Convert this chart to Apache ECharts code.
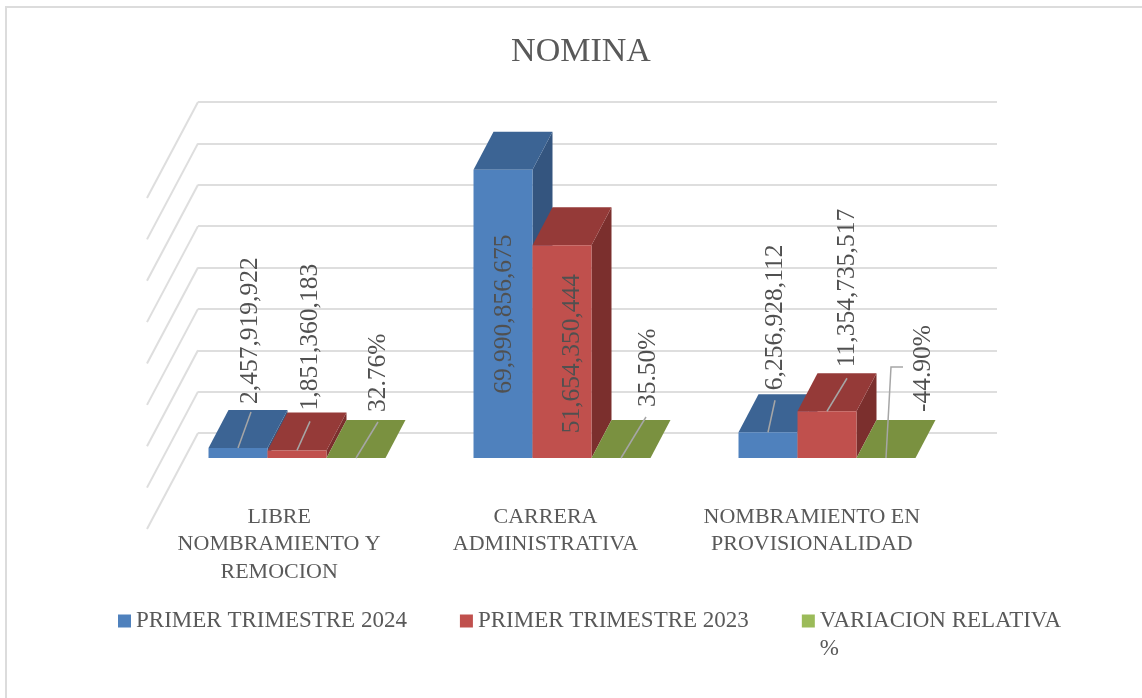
<!DOCTYPE html>
<html lang="en">
<head>
    <meta charset="UTF-8" />
    <title>NOMINA</title>
    <script src="https://cdn.jsdelivr.net/npm/echarts@6/dist/echarts.min.js"></script>
    <style>
        html, body { margin: 0; padding: 0; background: #fff; overflow: hidden; }
        #chart { width: 1142px; height: 698px; }
        #frame { position: absolute; left: 5px; top: 6px; right: 0; bottom: 0; border-left: 2px solid #dcdcdc; border-top: 2px solid #dcdcdc; pointer-events: none; }
    </style>
</head>
<body>
    <div id="chart"></div>
    <div id="frame"></div>
    <script type="text/javascript">
        const categories = ['LIBRE\nNOMBRAMIENTO Y\nREMOCION', 'CARRERA\nADMINISTRATIVA', 'NOMBRAMIENTO EN\nPROVISIONALIDAD'];
        const seriesNames = ['PRIMER TRIMESTRE 2024', 'PRIMER TRIMESTRE 2023', 'VARIACION RELATIVA\n%'];
        const trimestre2024 = [2457919922, 69990856675, 6256928112];
        const trimestre2023 = [1851360183, 51654350444, 11354735517];
        const variacion = [0.3276, 0.355, -0.449];
        const valueTicks = [0, 1e10, 2e10, 3e10, 4e10, 5e10, 6e10, 7e10, 8e10];

        // box styling, [front, top, side]
        const faceColors = [
            ['#4f81bd', '#3c6494', '#34557f'],
            ['#c0504d', '#953a38', '#7b2f2d'],
            ['#9bbb59', '#7a9140', '#66792f']
        ];
        const depth = [20, -38];      // how far the box goes backwards
        const wallDepth = [-51, 96];  // side wall runs towards the viewer
        const floorDrop = 25;         // bars stand in front of the back wall
        const frontScale = 0.995;     // front plane is a bit smaller than the back wall
        const clusterShift = -33.5;
        const fontName = '"Liberation Serif", serif';
        const textColor = '#595959';
        const gridColor = '#dedede';

        // label placement relative to the front-top middle of each bar: [label dx, label dy, leader points]
        const labelPlacement = [
            [[12.5, -44, [[13, -36]]], [13.5, -40, [[13, -29]]], [22, -46, [[22, -36]]]],
            [[1.5, 224, []], [10.5, 188, []], [27, -51, [[25, -41]]]],
            [[7, -42, [[7, -32]]], [20, -44, [[20, -33]]], [37, -46, [[5, -91], [17, -91]]]]
        ];

        const fmtInt = (v) => v.toLocaleString('en-US');
        const fmtPct = (v) => (v * 100).toFixed(2) + '%';

        function barFront(api, params, s, cat, value) {
            const left = params.coordSys.x;
            const base = api.coord([cat, 0]);
            const top = api.coord([cat, value]);
            const w = api.size([1, 0])[0] * 0.2215;
            const cx = left + (base[0] - left) * frontScale + clusterShift;
            const x0 = cx + (s - 1.5) * w;
            const h = Math.max(base[1] - top[1], 0) * frontScale;
            return { x0: x0, x1: x0 + w, yBase: base[1] + floorDrop, yTop: base[1] + floorDrop - h };
        }

        function poly(points, color, z2) {
            return { type: 'polygon', z2: z2, shape: { points: points }, style: { fill: color }, silent: true };
        }

        function renderBar(s) {
            return function (params, api) {
                const cat = api.value(0);
                const b = barFront(api, params, s, cat, api.value(1));
                const dx = depth[0], dy = depth[1];
                const c = faceColors[s];
                return {
                    type: 'group',
                    children: [
                        poly([[b.x1, b.yTop], [b.x1 + dx, b.yTop + dy], [b.x1 + dx, b.yBase + dy], [b.x1, b.yBase]], c[2], 1),
                        poly([[b.x0, b.yTop], [b.x1, b.yTop], [b.x1 + dx, b.yTop + dy], [b.x0 + dx, b.yTop + dy]], c[1], 2),
                        poly([[b.x0, b.yTop], [b.x1, b.yTop], [b.x1, b.yBase], [b.x0, b.yBase]], c[0], 3)
                    ]
                };
            };
        }

        function renderWall(params, api) {
            const y = api.coord([0, api.value(0)])[1];
            const x = params.coordSys.x;
            return {
                type: 'line',
                shape: { x1: x, y1: y, x2: x + wallDepth[0], y2: y + wallDepth[1] },
                style: { stroke: gridColor, lineWidth: 2 },
                silent: true
            };
        }

        function renderLabel(params, api) {
            const cat = api.value(0), s = api.value(1);
            const b = barFront(api, params, s, cat, api.value(2));
            const cx = (b.x0 + b.x1) / 2;
            const place = labelPlacement[cat][s];
            const children = [];
            if (place[2].length) {
                const pts = [[cx, b.yTop]].concat(place[2].map((p) => [cx + p[0], b.yTop + p[1]]));
                children.push({ type: 'polyline', shape: { points: pts }, style: { stroke: '#a6a6a6', lineWidth: 1.5, fill: null }, silent: true });
            }
            children.push({
                type: 'text',
                x: cx + place[0],
                y: b.yTop + place[1],
                rotation: Math.PI / 2,
                silent: true,
                style: {
                    text: api.value(3),
                    fill: '#505050',
                    font: '25.5px ' + fontName,
                    align: 'left',
                    verticalAlign: 'middle'
                }
            });
            return { type: 'group', children: children };
        }

        const seriesValues = [trimestre2024, trimestre2023, variacion];
        const labelRows = [];
        categories.forEach((_, c) => {
            seriesValues.forEach((vals, s) => {
                labelRows.push([c, s, s === 2 ? 0 : vals[c], s === 2 ? fmtPct(vals[c]) : fmtInt(vals[c])]);
            });
        });

        const chart = echarts.init(document.getElementById('chart'), null, { renderer: 'canvas' });
        chart.setOption({
            animation: false,
            backgroundColor: '#fff',
            title: {
                text: 'NOMINA',
                left: 576,
                top: 30,
                textAlign: 'center',
                textStyle: { fontFamily: fontName, fontWeight: 'normal', fontSize: 34, color: textColor }
            },
            grid: { left: 198, top: 102, width: 799, height: 331 },
            xAxis: {
                type: 'category',
                data: categories,
                axisLine: { show: false },
                axisTick: { show: false },
                axisLabel: {
                    margin: 70,
                    interval: 0,
                    padding: [0, 104, 0, 0],
                    fontFamily: fontName,
                    fontSize: 22,
                    lineHeight: 27.5,
                    color: textColor
                }
            },
            yAxis: {
                type: 'value',
                min: 0,
                max: 8e10,
                interval: 1e10,
                axisLine: { show: false },
                axisTick: { show: false },
                axisLabel: { show: false },
                splitLine: { lineStyle: { color: gridColor, width: 2 } }
            },
            legend: {
                left: 118,
                top: 579,
                padding: 0,
                icon: 'rect',
                itemWidth: 13,
                itemHeight: 13,
                itemGap: 53,
                selectedMode: false,
                // blank first line keeps the first text line level with the icon
                formatter: (name) => name.indexOf('\n') >= 0 ? '\n' + name : name,
                textStyle: { fontFamily: fontName, fontSize: 23, lineHeight: 28, color: textColor },
                data: seriesNames
            },
            series: [
                {
                    name: 'walls',
                    type: 'custom',
                    z: 1,
                    renderItem: renderWall,
                    encode: { y: 0 },
                    data: valueTicks.map((v) => [v])
                }
            ].concat(seriesValues.map((vals, s) => ({
                name: seriesNames[s],
                type: 'custom',
                z: 2 + s,
                itemStyle: { color: faceColors[s][0] },
                renderItem: renderBar(s),
                encode: { x: 0, y: 1 },
                data: vals.map((v, c) => [c, v])
            }))).concat([
                {
                    name: 'labels',
                    type: 'custom',
                    z: 10,
                    renderItem: renderLabel,
                    encode: { x: 0, y: 2 },
                    data: labelRows
                }
            ])
        });
    </script>
</body>
</html>
